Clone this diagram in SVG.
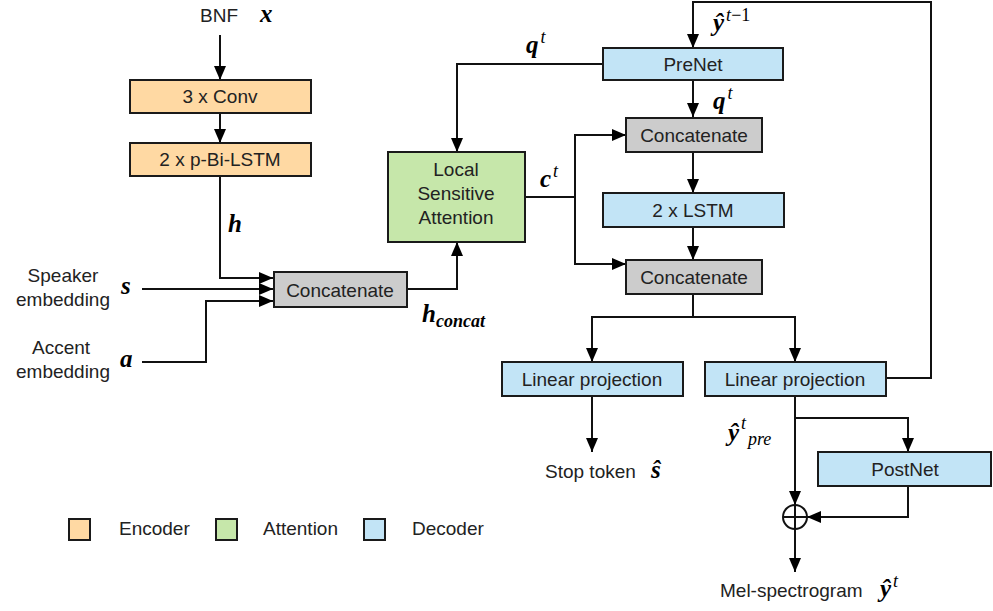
<svg xmlns="http://www.w3.org/2000/svg" width="993" height="611" viewBox="0 0 993 611">
  <style>
    .box { stroke: #1a1a1a; stroke-width: 2; }
    .enc { fill: #ffd9a3; }
    .att { fill: #c6e7aa; }
    .dec { fill: #c2e4f6; }
    .cat { fill: #cccccc; }
    .lbl { font-family: "Liberation Sans", Arial, sans-serif; font-size: 19px; fill: #222; }
    .mid { text-anchor: middle; }
    .math { font-family: "Liberation Serif", "DejaVu Serif", serif; font-weight: bold; font-style: italic; font-size: 25px; fill: #000; }
    .sup { font-size: 18px; font-weight: normal; }
    .sub { font-size: 18px; }
    .wire { fill: none; stroke: #111; stroke-width: 2; }
  </style>
  <defs>
    <marker id="arrow" markerUnits="userSpaceOnUse" markerWidth="14" markerHeight="12" refX="14" refY="6" orient="auto">
      <path d="M0,0 L14,6 L0,12 z" fill="#000"/>
    </marker>
  </defs>

  <rect width="993" height="611" fill="#fff"/>

  <!-- connectors -->
  <g id="connectors" class="wire" marker-end="url(#arrow)">
    <path d="M220,35 V80"/>
    <path d="M220,113 V143"/>
    <path d="M220,176 V278 H273"/>
    <path d="M142,289 H273"/>
    <path d="M142,362 H206 V301 H273"/>
    <path d="M407,289 H457 V242"/>
    <path d="M603,64 H457 V152"/>
    <path d="M525,197 H575 V135 H626"/>
    <path d="M575,197 V264 H626"/>
    <path d="M886,378 H931 V2 H693 V48"/>
    <path d="M693,80 V117"/>
    <path d="M693,152 V193"/>
    <path d="M693,227 V260"/>
    <path d="M693,294 V317 H592 V362"/>
    <path d="M693,317 H795 V362"/>
    <path d="M592,396 V452"/>
    <path d="M795,396 V505"/>
    <path d="M795,418 H908 V452"/>
    <path d="M908,486 V517 H807"/>
    <path d="M795,529 V572"/>
  </g>

  <!-- summation node -->
  <g id="sum" fill="none" stroke="#111" stroke-width="2">
    <circle cx="795" cy="517" r="12"/>
    <path d="M783,517 H807 M795,505 V529"/>
  </g>

  <!-- encoder -->
  <g id="conv">
    <rect class="box enc" x="130" y="80" width="181" height="33"/>
    <text class="lbl mid" x="220" y="103">3 x Conv</text>
  </g>
  <g id="bilstm">
    <rect class="box enc" x="130" y="143" width="181" height="33"/>
    <text class="lbl mid" x="220" y="166">2 x p-Bi-LSTM</text>
  </g>
  <g id="concat-enc">
    <rect class="box cat" x="274" y="272" width="133" height="35"/>
    <text class="lbl mid" x="340" y="297">Concatenate</text>
  </g>

  <!-- attention -->
  <g id="attention">
    <rect class="box att" x="388" y="152" width="137" height="90"/>
    <text class="lbl mid" x="456" y="176">Local</text>
    <text class="lbl mid" x="456" y="200">Sensitive</text>
    <text class="lbl mid" x="456" y="224">Attention</text>
  </g>

  <!-- decoder -->
  <g id="prenet">
    <rect class="box dec" x="603" y="48" width="180" height="32"/>
    <text class="lbl mid" x="693" y="71">PreNet</text>
  </g>
  <g id="concat-1">
    <rect class="box cat" x="626" y="118" width="136" height="34"/>
    <text class="lbl mid" x="694" y="142">Concatenate</text>
  </g>
  <g id="lstm">
    <rect class="box dec" x="603" y="193" width="181" height="34"/>
    <text class="lbl mid" x="693" y="217">2 x LSTM</text>
  </g>
  <g id="concat-2">
    <rect class="box cat" x="626" y="260" width="136" height="34"/>
    <text class="lbl mid" x="694" y="284">Concatenate</text>
  </g>
  <g id="linear-stop">
    <rect class="box dec" x="502" y="362" width="181" height="34"/>
    <text class="lbl mid" x="592" y="386">Linear projection</text>
  </g>
  <g id="linear-mel">
    <rect class="box dec" x="705" y="362" width="181" height="34"/>
    <text class="lbl mid" x="795" y="386">Linear projection</text>
  </g>
  <g id="postnet">
    <rect class="box dec" x="818" y="452" width="173" height="34"/>
    <text class="lbl mid" x="905" y="476">PostNet</text>
  </g>

  <!-- input / output labels -->
  <g id="labels">
    <text class="lbl mid" x="219" y="22">BNF</text>
    <text class="math" x="260" y="22">x</text>
    <text class="math" x="228" y="232">h</text>
    <text class="lbl mid" x="63" y="282">Speaker</text>
    <text class="lbl mid" x="63" y="306">embedding</text>
    <text class="math" x="121" y="294">s</text>
    <text class="lbl mid" x="61" y="354">Accent</text>
    <text class="lbl mid" x="63" y="378">embedding</text>
    <text class="math" x="120" y="367">a</text>
    <text class="math" x="422" y="322">h<tspan class="sub" dy="5">concat</tspan></text>
    <text class="math" x="540" y="187">c<tspan class="sup" dx="2" dy="-10">t</tspan></text>
    <text class="math" x="526" y="53">q<tspan class="sup" dx="2" dy="-10">t</tspan></text>
    <text class="math" x="713" y="109">q<tspan class="sup" dx="2" dy="-10">t</tspan></text>
    <text class="math" x="713" y="31">ŷ<tspan class="sup" dx="2" dy="-10">t</tspan><tspan class="sup" font-style="normal">−1</tspan></text>
    <text class="lbl" x="545" y="478">Stop token</text>
    <text class="math" x="651" y="478">ŝ</text>
    <text class="math" x="728" y="441">ŷ<tspan class="sup" dx="2" dy="-12">t</tspan><tspan class="sup" x="748" dy="16">pre</tspan></text>
    <text class="lbl" x="720" y="597">Mel-spectrogram</text>
    <text class="math" x="880" y="597">ŷ<tspan class="sup" dx="2" dy="-10">t</tspan></text>
  </g>

  <!-- legend -->
  <g id="legend">
    <rect class="box enc" x="69" y="519" width="21" height="21"/>
    <text class="lbl" x="119" y="535">Encoder</text>
    <rect class="box att" x="216" y="519" width="21" height="21"/>
    <text class="lbl" x="263" y="535">Attention</text>
    <rect class="box dec" x="364" y="519" width="21" height="21"/>
    <text class="lbl" x="412" y="535">Decoder</text>
  </g>
</svg>
